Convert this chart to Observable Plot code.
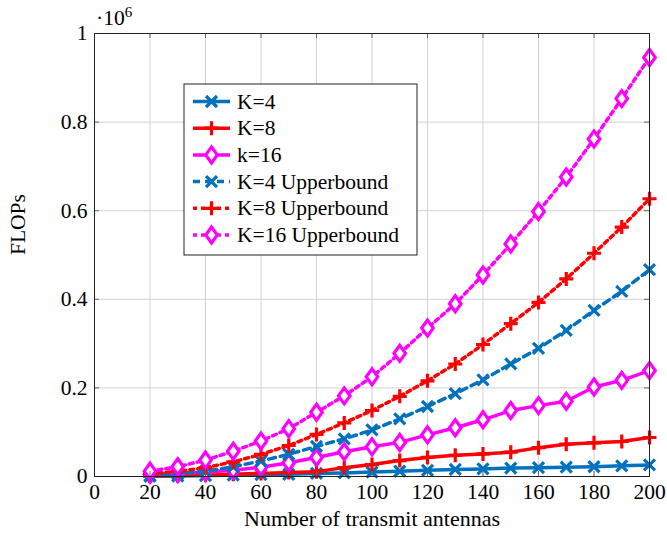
<!DOCTYPE html>
<html>
<head>
<meta charset="utf-8">
<script src="https://cdn.jsdelivr.net/npm/d3@7"></script>
<script src="https://cdn.jsdelivr.net/npm/@observablehq/plot@0.6"></script>
<style>
  html, body { margin: 0; padding: 0; background: #fff; }
  #chart { width: 667px; height: 538px; }
</style>
</head>
<body>
<div id="chart"></div>
<script>
// ---- data (values in units of 10^6 FLOPs) ----
const antennas = [20, 30, 40, 50, 60, 70, 80, 90, 100, 110, 120, 130, 140, 150, 160, 170, 180, 190, 200];
const k4       = [0.0005, 0.001, 0.002, 0.003, 0.004, 0.005, 0.007, 0.008, 0.010, 0.012, 0.014, 0.016, 0.017, 0.019, 0.020, 0.021, 0.022, 0.024, 0.026];
const k8       = [0.001, 0.002, 0.003, 0.005, 0.007, 0.009, 0.011, 0.020, 0.027, 0.036, 0.043, 0.048, 0.051, 0.055, 0.065, 0.073, 0.076, 0.079, 0.088];
const k16      = [0.005, 0.007, 0.010, 0.014, 0.021, 0.031, 0.043, 0.056, 0.067, 0.077, 0.094, 0.110, 0.128, 0.149, 0.160, 0.170, 0.202, 0.217, 0.239];
const k4Upper  = [0.002, 0.006, 0.012, 0.022, 0.035, 0.050, 0.068, 0.085, 0.105, 0.130, 0.158, 0.187, 0.218, 0.254, 0.289, 0.330, 0.375, 0.418, 0.467];
const k8Upper  = [0.006, 0.012, 0.020, 0.033, 0.050, 0.070, 0.095, 0.121, 0.149, 0.181, 0.216, 0.254, 0.298, 0.345, 0.393, 0.446, 0.504, 0.563, 0.627];
const k16Upper = [0.012, 0.022, 0.037, 0.057, 0.080, 0.108, 0.145, 0.182, 0.225, 0.278, 0.335, 0.390, 0.455, 0.525, 0.598, 0.676, 0.762, 0.853, 0.946];

const seriesNames = ["K=4", "K=8", "k=16", "K=4 Upperbound", "K=8 Upperbound", "K=16 Upperbound"];
const xTicks = [0, 20, 40, 60, 80, 100, 120, 140, 160, 180, 200];
const yTicks = [0, 0.2, 0.4, 0.6, 0.8, 1];
const xLabel = "Number of transmit antennas";
const yLabel = "FLOPs";

// ---- marker shapes ----
const symCross = { draw(ctx, size) { const r = Math.sqrt(size / Math.PI);
  ctx.moveTo(-r, -r); ctx.lineTo(r, r); ctx.moveTo(-r, r); ctx.lineTo(r, -r); } };
const symPlus = { draw(ctx, size) { const r = Math.sqrt(size / Math.PI);
  ctx.moveTo(-r, 0); ctx.lineTo(r, 0); ctx.moveTo(0, -r); ctx.lineTo(0, r); } };
const symDiamond = { draw(ctx, size) { const r = Math.sqrt(size / Math.PI); const w = r * 0.72;
  ctx.moveTo(0, -r); ctx.lineTo(w, 0); ctx.lineTo(0, r); ctx.lineTo(-w, 0); ctx.closePath(); } };

const blue = "#0072BD", red = "#FF0000", magenta = "#FF00FF";
const series = [
  { name: seriesNames[0], values: k4,       color: blue,    dash: null,  symbol: symCross,   r: 5.5, fill: "none" },
  { name: seriesNames[1], values: k8,       color: red,     dash: null,  symbol: symPlus,    r: 7,   fill: "none" },
  { name: seriesNames[2], values: k16,      color: magenta, dash: null,  symbol: symDiamond, r: 8,   fill: "white" },
  { name: seriesNames[3], values: k4Upper,  color: blue,    dash: "7,5", symbol: symCross,   r: 5.5, fill: "none" },
  { name: seriesNames[4], values: k8Upper,  color: red,     dash: "4,4", symbol: symPlus,    r: 7,   fill: "none" },
  { name: seriesNames[5], values: k16Upper, color: magenta, dash: "4,4", symbol: symDiamond, r: 8,   fill: "white" }
];

const W = 667, H = 538;
const mL = 94, mR = 18, mT = 33, mB = 62;
const plotW = W - mL - mR, plotH = H - mT - mB;
const tickPx = 5;
const xMax = 200, yMax = 1;
const tx = tickPx / plotW * xMax, ty = tickPx / plotH * yMax;
const gridColor = "#d2d2d2", tickColor = "#666";
const serif = "'Liberation Serif', 'Times New Roman', serif";
const fs = 21.5;

const marks = [
  Plot.gridX(xTicks, { stroke: gridColor, strokeOpacity: 1 }),
  Plot.gridY(yTicks, { stroke: gridColor, strokeOpacity: 1 })
];
for (const s of series) {
  const data = antennas.map((x, i) => ({ x, y: s.values[i] }));
  marks.push(Plot.line(data, { x: "x", y: "y", stroke: s.color, strokeWidth: 3.5,
    strokeDasharray: s.dash || undefined, strokeLinejoin: "round" }));
  marks.push(Plot.dot(data, { x: "x", y: "y", symbol: s.symbol, r: s.r, stroke: s.color,
    strokeWidth: 3.2, fill: s.fill }));
}
// inward tick marks on all sides
marks.push(
  Plot.ruleX(xTicks, { y1: 0, y2: ty, stroke: tickColor }),
  Plot.ruleX(xTicks, { y1: yMax - ty, y2: yMax, stroke: tickColor }),
  Plot.ruleY(yTicks, { x1: 0, x2: tx, stroke: tickColor }),
  Plot.ruleY(yTicks, { x1: xMax - tx, x2: xMax, stroke: tickColor }),
  Plot.frame({ stroke: "#222", strokeWidth: 1 }),
  Plot.axisX(xTicks, { tickSize: 0, tickPadding: 7, label: null, fontSize: fs }),
  Plot.axisY(yTicks, { tickSize: 0, tickPadding: 7, label: null, fontSize: fs,
    tickFormat: d => String(+d.toFixed(1)) }),
  Plot.text([xLabel], { frameAnchor: "bottom", dy: 49, fontSize: 22 }),
  Plot.text([yLabel], { frameAnchor: "left", dx: -76, rotate: -90, fontSize: fs })
);

const chart = Plot.plot({
  width: W, height: H,
  marginLeft: mL, marginRight: mR, marginTop: mT, marginBottom: mB,
  x: { domain: [0, xMax] },
  y: { domain: [0, yMax] },
  style: { fontFamily: serif, fontSize: fs + "px",
    background: "white", color: "black", overflow: "visible" },
  marks
});
document.getElementById("chart").appendChild(chart);

// ---- scale multiplier and legend ----
const svg = d3.select(chart);
const mult = svg.append("text")
  .attr("x", mL + 2).attr("y", 25).attr("text-anchor", "start")
  .attr("font-family", serif).attr("font-size", fs).attr("fill", "black");
mult.append("tspan").text("·10");
mult.append("tspan").attr("dy", -8).attr("font-size", 15).text("6");

const lg = svg.append("g");
const lx = 184, ly = 84, lw = 233, lh = 171, rowH = 26.7, firstRow = 101.5;
lg.append("rect").attr("x", lx).attr("y", ly).attr("width", lw).attr("height", lh)
  .attr("fill", "white").attr("stroke", "#222").attr("stroke-width", 1);
series.forEach((s, i) => {
  const cy = firstRow + i * rowH;
  const row = lg.append("g");
  row.append("line").attr("x1", 193).attr("x2", 230).attr("y1", cy).attr("y2", cy)
    .attr("stroke", s.color).attr("stroke-width", 3.5)
    .attr("stroke-dasharray", s.dash);
  row.append("path").attr("d", d3.symbol(s.symbol, Math.PI * s.r * s.r)())
    .attr("transform", `translate(211.5,${cy})`)
    .attr("fill", s.fill).attr("stroke", s.color).attr("stroke-width", 3.2);
  row.append("text").attr("x", 237).attr("y", cy + 7).attr("text-anchor", "start")
    .attr("font-family", serif).attr("font-size", fs)
    .attr("fill", "black").text(s.name);
});
</script>
</body>
</html>
